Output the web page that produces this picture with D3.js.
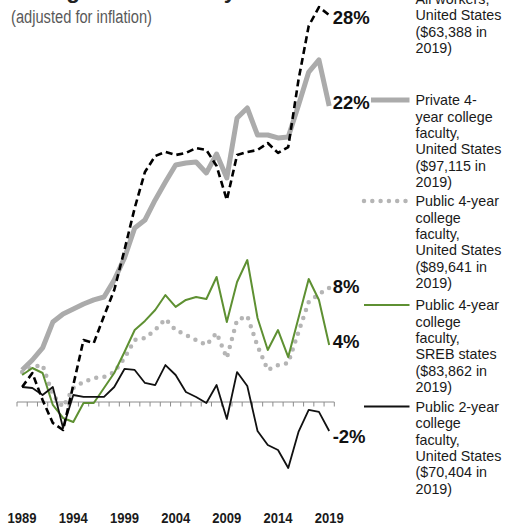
<!DOCTYPE html>
<html><head><meta charset="utf-8">
<script src="https://cdn.jsdelivr.net/npm/d3@7"></script>
<style>html,body{margin:0;padding:0;background:#fff;overflow:hidden}</style>
</head><body><svg id="c" width="506" height="525"></svg>
<script>
// ---- data ----
const years = [1989,1990,1991,1992,1993,1994,1995,1996,1997,1998,1999,2000,2001,2002,2003,2004,2005,2006,2007,2008,2009,2010,2011,2012,2013,2014,2015,2016,2017,2018,2019];
const allWorkersUS = [1.07,2.07,0.14,-1.5,-2.0,1.21,4.43,4.21,6.14,8.0,10.86,13.86,16.43,17.57,17.86,17.64,17.79,18.14,18.0,16.86,14.43,17.64,17.86,18.0,18.5,17.79,18.21,23.0,26.86,28.21,27.64];
const private4US = [2.29,3.0,3.86,5.71,6.29,6.64,7.0,7.29,7.5,8.71,10.29,12.43,13.0,14.43,15.71,16.93,17.07,17.14,16.36,17.71,16.0,20.29,21.0,19.07,19.07,18.86,18.93,21.2,23.57,24.43,21.14];
const public4US = [2.14,2.5,2.64,0.5,-0.36,1.0,1.43,1.71,1.79,2.14,3.14,4.43,4.57,5.14,5.93,5.14,4.79,4.43,4.07,4.93,3.14,5.86,6.14,4.0,2.29,2.64,2.79,5.0,7.14,7.71,8.14];
const public4SREB = [1.93,2.43,2.07,-0.21,-1.14,-1.43,-0.07,-0.07,1.0,2.07,3.57,5.14,5.79,6.57,7.64,6.79,7.29,7.5,7.36,8.93,5.71,8.57,10.14,6.0,3.71,5.14,3.21,6.0,8.79,7.29,4.07];
const public2US = [1.07,1.0,0.5,1.07,-1.86,0.5,0.36,0.36,0.36,1.07,2.36,2.29,1.36,1.21,2.64,1.93,0.71,0.36,-0.07,1.21,-1.21,2.14,1.14,-2.07,-3.07,-3.43,-4.71,-2.14,-0.57,-0.71,-2.07];
const tickLabels = ["1989","1994","1999","2004","2009","2014","2019"];
const endLabels = ["28%","22%","8%","4%","-2%"];
const legendLabels = [
  ["All workers,","United States","($63,388 in","2019)"],
  ["Private 4-","year college","faculty,","United States","($97,115 in","2019)"],
  ["Public 4-year","college","faculty,","United States","($89,641 in","2019)"],
  ["Public 4-year","college","faculty,","SREB states","($83,862 in","2019)"],
  ["Public 2-year","college","faculty,","United States","($70,404 in","2019)"]
];
const titleText = "Change in real salary";
const subtitleText = "(adjusted for inflation)";

// ---- styles ----
const series = [
  {values: private4US, color:"#ababab", width:5, dash:null, cap:"butt", legY:100, legX0:371, labDy:-4},
  {values: public4US, color:"#b5b5b5", width:4.5, dash:"0 8.3", cap:"round", legY:201, legX0:364, labDy:-2},
  {values: public4SREB, color:"#5e9032", width:2, dash:null, cap:"butt", legY:305, legX0:364, labDy:-4},
  {values: public2US, color:"#111", width:1.8, dash:null, cap:"butt", legY:406.5, legX0:364, labDy:5},
  {values: allWorkersUS, color:"#000", width:2.6, dash:"7 4", cap:"butt", legY:-1.5, legX0:364, labDy:2}
];
const legendOrder = [4,0,1,2,3];
const labelOrder = [4,0,1,2,3];

const svg = d3.select("#c");
const x = d3.scaleBand().domain(years).range([17, 334.3]).padding(0);
const xc = yr => x(yr) + x.bandwidth()/2;
const y = d3.scaleLinear().domain([-6, 28]).range([486, 10]);

// title (cut off at top as in the reference)
svg.append("text").attr("x",10).attr("y",-2)
  .attr("font-family","Liberation Sans, Arial, sans-serif").attr("font-weight","bold")
  .attr("font-size",22.5).attr("fill","#222").text(titleText);
svg.append("text").attr("x",11).attr("y",23)
  .attr("font-family","Liberation Sans Narrow, Arial Narrow, Liberation Sans, sans-serif")
  .attr("font-size",18).attr("fill","#595959")
  .attr("textLength",141).attr("lengthAdjust","spacingAndGlyphs").text(subtitleText);

// axis baseline and ticks
const y0 = y(0);
const ax = svg.append("g").attr("stroke","#8c8c8c").attr("stroke-width",1);
ax.append("line").attr("x1",x.range()[0]).attr("x2",x.range()[1]).attr("y1",y0).attr("y2",y0);
const tickXs = years.map(yr => x(yr)).concat([x.range()[1]]);
ax.selectAll("line.t").data(tickXs).join("line").attr("class","t")
  .attr("x1",d=>d).attr("x2",d=>d).attr("y1",y0).attr("y2",y0+4.5);

// year labels
svg.selectAll("text.yr").data(tickLabels).join("text").attr("class","yr")
  .attr("x",d=>xc(+d)).attr("y",523).attr("text-anchor","middle")
  .attr("font-family","Liberation Sans Narrow, Arial Narrow, Liberation Sans, sans-serif")
  .attr("font-weight","bold").attr("font-size",15).attr("fill","#1a1a1a")
  .attr("textLength",29).attr("lengthAdjust","spacingAndGlyphs").text(d=>d);

// lines
const line = d3.line().x((d,i)=>xc(years[i])).y(d=>y(d));
series.forEach(s=>{
  svg.append("path").datum(s.values).attr("d",line).attr("fill","none")
    .attr("stroke",s.color).attr("stroke-width",s.width)
    .attr("stroke-dasharray",s.dash).attr("stroke-linecap",s.cap)
    .attr("stroke-linejoin","round");
});

// end labels
labelOrder.forEach((si,k)=>{
  const s = series[si];
  const last = s.values[s.values.length-1];
  svg.append("text").attr("x",xc(2019)+3.5).attr("y",y(last)+s.labDy)
    .attr("dy","0.36em")
    .attr("font-family","Liberation Sans, Arial, sans-serif").attr("font-weight","bold")
    .attr("font-size",18.5).attr("fill","#111").text(endLabels[k]);
});

// legend
legendOrder.forEach((si,k)=>{
  const s = series[si];
  svg.append("line").attr("x1",s.legX0).attr("x2",409.5).attr("y1",s.legY).attr("y2",s.legY)
    .attr("stroke",s.color).attr("stroke-width",s.width)
    .attr("stroke-dasharray",s.dash).attr("stroke-linecap",s.cap);
  const t = svg.append("text").attr("x",415.5).attr("y",s.legY+5.2)
    .attr("font-family","Liberation Sans, Arial, sans-serif").attr("font-size",14.3).attr("fill","#1a1a1a");
  legendLabels[k].forEach((ln,j)=>{
    t.append("tspan").attr("x",415.5).attr("dy", j===0?0:16.4).text(ln);
  });
});
</script></body></html>
